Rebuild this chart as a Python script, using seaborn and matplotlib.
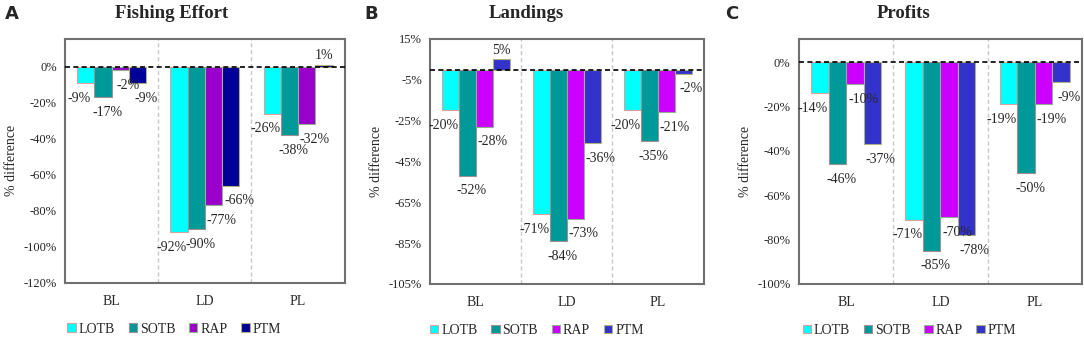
import matplotlib
matplotlib.use('Agg')
import matplotlib.pyplot as plt
import seaborn as sns
import pandas as pd
from matplotlib.patches import Patch

sites = ['BL', 'LD', 'PL']
fleets = ['LOTB', 'SOTB', 'RAP', 'PTM']

# values per fleet, ordered as sites
effort = {'LOTB': [-9, -92, -26], 'SOTB': [-17, -90, -38],
          'RAP': [-2, -77, -32], 'PTM': [-9, -66, 1]}
landings = {'LOTB': [-20, -71, -20], 'SOTB': [-52, -84, -35],
            'RAP': [-28, -73, -21], 'PTM': [5, -36, -2]}
profits = {'LOTB': [-14, -71, -19], 'SOTB': [-46, -85, -50],
           'RAP': [-10, -70, -19], 'PTM': [-37, -78, -9]}

titles = ['Fishing Effort', 'Landings', 'Profits']
letters = ['A', 'B', 'C']
yticks_list = [list(range(-120, 1, 20)), list(range(-105, 16, 20)), list(range(-100, 1, 20))]
ylims = [(-120, 15.5), (-105, 15), (-100, 10.5)]

pal_a = {'LOTB': '#00FFFF', 'SOTB': '#009999', 'RAP': '#9900CC', 'PTM': '#000099'}
pal_bc = {'LOTB': '#00FFFF', 'SOTB': '#009999', 'RAP': '#CC00FF', 'PTM': '#3333CC'}
palettes = [pal_a, pal_bc, pal_bc]
edge_cols = {'LOTB': '#D9A0A0', 'SOTB': '#A09090', 'RAP': '#90B090', 'PTM': '#B0B080'}
# horizontal nudge of the value labels (points), like the hand-placed Excel labels
label_dx = {'LOTB': -5, 'SOTB': 3, 'RAP': 6, 'PTM': 6}

positions = [[0.060, 0.163, 0.258, 0.722],
             [0.397, 0.160, 0.252, 0.725],
             [0.737, 0.160, 0.261, 0.725]]


def make_df(d):
    rows = []
    for f in fleets:
        for s, v in zip(sites, d[f]):
            rows.append({'Site': s, 'Fleet': f, 'Value': v})
    return pd.DataFrame(rows)


sns.set_style('white')
plt.rcParams['font.family'] = ['Liberation Serif', 'DejaVu Serif']

fig = plt.figure(figsize=(10.84, 3.38), dpi=100)

for i, data in enumerate([effort, landings, profits]):
    df = make_df(data)
    ax = fig.add_axes(positions[i])
    sns.barplot(data=df, x='Site', y='Value', hue='Fleet', hue_order=fleets,
                order=sites, palette=palettes[i], width=0.74, gap=0, saturation=1,
                linewidth=0.8, ax=ax, legend=False, errorbar=None)
    for cont, f in zip(ax.containers, fleets):
        for bar in cont:
            bar.set_edgecolor(edge_cols[f])
            h = bar.get_height()
            x = bar.get_x() + bar.get_width() / 2
            if h >= 0:
                ax.annotate(f'{h:.0f}%', (x, h), xytext=(0, 2), textcoords='offset points',
                            ha='center', va='bottom', fontsize=10)
            else:
                ax.annotate(f'{h:.0f}%', (x, h), xytext=(label_dx[f], -11),
                            textcoords='offset points', ha='center', va='center', fontsize=10)

    ax.axhline(0, color='black', linestyle='--', linewidth=1.2, dashes=(3, 2), zorder=5)
    for xv in [0.5, 1.5]:
        ax.axvline(xv, color='#C8C8C8', linestyle='--', linewidth=1, dashes=(3, 2), zorder=0)

    ax.set_xlim(-0.5, 2.5)
    ax.set_ylim(*ylims[i])
    ax.set_yticks(yticks_list[i])
    ax.set_yticklabels([f'{t}%' for t in yticks_list[i]], fontsize=9)
    ax.tick_params(axis='x', labelsize=10, pad=9, length=0)
    ax.tick_params(axis='y', length=0, pad=6)
    ax.set_xlabel('')
    ax.set_ylabel('% difference', fontsize=10, labelpad=4)
    for sp in ax.spines.values():
        sp.set_color('#707070')
        sp.set_linewidth(1.5)

    handles = [Patch(facecolor=palettes[i][f], edgecolor=edge_cols[f], linewidth=0.8, label=f)
               for f in fleets]
    ax.legend(handles=handles, loc='center', bbox_to_anchor=(0.39, -0.19),
              ncol=4, frameon=False, fontsize=10, handlelength=0.6, handleheight=0.6,
              handletextpad=0.2, columnspacing=1.0, borderaxespad=0, borderpad=0)

# titles and panel letters in figure coords
title_x = [172 / 1084, 526 / 1084, 904 / 1084]
letter_x = [5 / 1084, 364 / 1084, 725 / 1084]
for i in range(3):
    fig.text(title_x[i], 1 - 13 / 338, titles[i], ha='center', va='center',
             fontsize=13.5, fontweight='bold')
    fig.text(letter_x[i], 1 - 14 / 338, letters[i], ha='left', va='center',
             fontsize=13, fontweight='bold', family=['DejaVu Sans'])

fig.savefig('out.png', dpi=100)
